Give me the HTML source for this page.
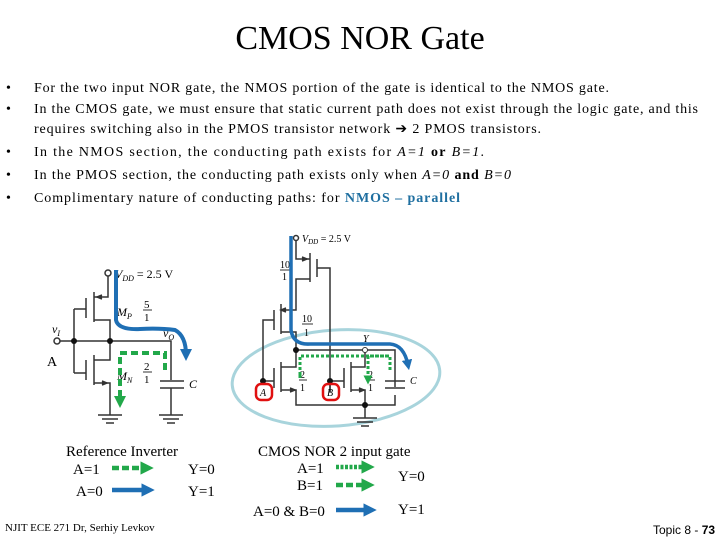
<!DOCTYPE html>
<html><head><style>
body{margin:0;width:720px;height:540px;background:#fff;overflow:hidden}
svg{display:block}
text{font-family:"Liberation Serif",serif}
</style></head><body>
<svg width="720" height="540" viewBox="0 0 720 540" xmlns="http://www.w3.org/2000/svg">
<defs>
<marker id="bh" viewBox="0 0 10 10" refX="5" refY="5" markerWidth="3" markerHeight="3" orient="auto"><path d="M0,0L10,5L0,10z" fill="#1f6fb4"/></marker>
<marker id="gh" viewBox="0 0 10 10" refX="5" refY="5" markerWidth="3" markerHeight="3" orient="auto"><path d="M0,0L10,5L0,10z" fill="#22a84a"/></marker>
</defs>
<text x="360" y="49" font-size="34" text-anchor="middle">CMOS NOR Gate</text>
<g font-size="14">
<text x="6" y="92">•</text><text x="34" y="92" textLength="575" lengthAdjust="spacing">For the two input NOR gate, the NMOS portion of the gate is identical to the NMOS gate.</text>
<text x="6" y="113">•</text><text x="34" y="113" textLength="664" lengthAdjust="spacing">In the CMOS gate, we must ensure that static current path does not exist through the logic gate, and this</text>
<text x="34" y="133" textLength="507" lengthAdjust="spacing">requires switching also in the PMOS transistor network ➔ 2 PMOS transistors.</text>
<text x="6" y="156">•</text><text x="34" y="156" textLength="450" lengthAdjust="spacing">In the NMOS section, the conducting path exists for <tspan font-style="italic">A=1</tspan> <tspan font-weight="bold">or</tspan> <tspan font-style="italic">B=1</tspan>.</text>
<text x="6" y="179">•</text><text x="34" y="179" textLength="477" lengthAdjust="spacing">In the PMOS section, the conducting path exists only when <tspan font-style="italic">A=0</tspan> <tspan font-weight="bold">and</tspan> <tspan font-style="italic">B=0</tspan></text>
<text x="6" y="202">•</text><text x="34" y="202" textLength="426" lengthAdjust="spacing">Complimentary nature of conducting paths:  for <tspan font-weight="bold" fill="#1f6fa0">NMOS – parallel</tspan></text>
</g>
<!-- inverter -->
<g stroke="#333" stroke-width="1.5" fill="none">
<circle cx="108" cy="273" r="3"/>
<path d="M108,276V297H94M94,292V322M86,298V318M94,320H110V341"/>
<path d="M102,295l-5,2l5,2" fill="#333"/>
<path d="M74,309V373M74,309H86M74,373H86M60,341H110H171V380"/>
<path d="M110,341V360H94M94,355V385M86,360V380M94,383H110V415"/>
<path d="M102,381l5,2l-5,2" fill="#333"/>
<circle cx="57" cy="341" r="3"/>
<path d="M160,381H184M160,388H184M171,388V415M98,415H122M102,419H118M106,423H114M159,415H183M163,419H179M167,423H175"/>
</g>
<circle cx="74" cy="341" r="3" fill="#111"/><circle cx="110" cy="341" r="3" fill="#111"/>
<g font-size="12" font-style="italic"><text x="115" y="278">V<tspan font-size="8" dy="3">DD</tspan><tspan dy="-3" font-style="normal"> = 2.5 V</tspan></text>
<text x="117" y="316">M<tspan font-size="8" dy="3">P</tspan></text><text x="117" y="380">M<tspan font-size="8" dy="3">N</tspan></text>
<text x="163" y="337">v<tspan font-size="8" dy="3">O</tspan></text><text x="52" y="333">v<tspan font-size="8" dy="3">I</tspan></text>
<text x="189" y="388">C</text></g>
<g font-size="11"><text x="144" y="308">5</text><line x1="143" y1="310" x2="152" y2="310" stroke="#333"/><text x="144" y="321">1</text>
<text x="144" y="370">2</text><line x1="143" y1="372" x2="152" y2="372" stroke="#333"/><text x="144" y="383">1</text></g>
<text x="47" y="366" font-size="14">A</text>
<path d="M116,270V320Q118,330 140,329Q160,328 175,330Q186,336 186,355" stroke="#1f6fb4" stroke-width="4" fill="none" marker-end="url(#bh)"/>
<path d="M165,370V353H120V402" stroke="#22a84a" stroke-width="4" stroke-dasharray="7,4" fill="none" marker-end="url(#gh)"/>
<!-- NOR -->
<ellipse cx="336" cy="378" rx="104" ry="48" stroke="#a8d4dc" stroke-width="3" fill="none" transform="rotate(-4 336 378)"/>
<g stroke="#333" stroke-width="1.5" fill="none">
<circle cx="296" cy="238" r="2.5"/>
<path d="M296,240V259H310M310,253V282M317,259V277M310,279H296V310H281M281,304V334M274,310V330M281,332H296V350M317,268H330V392M274,320H263V381"/>
<path d="M302,257l5,2l-5,2M286,308l-5,2l5,2" fill="#333"/>
<path d="M296,350H395V387M296,350V367H281M281,362V392M274,368V388M281,390H296V405H395V395"/>
<path d="M365,350V367H351M351,362V392M344,368V388M351,390H365V405M330,392V381H344M263,381H274"/>
<path d="M290,388l5,2l-5,2M359,388l5,2l-5,2" fill="#333"/>
<path d="M385,381H405M385,388H405M365,405V418M353,418H377M357,422H373M361,426H369"/>
</g>
<circle cx="296" cy="350" r="3" fill="#111"/><circle cx="365" cy="350" r="2.5" fill="#fff" stroke="#333"/>
<circle cx="263" cy="381" r="3" fill="#111"/><circle cx="330" cy="381" r="3" fill="#111"/><circle cx="365" cy="405" r="3" fill="#111"/>
<g font-size="10"><text x="280" y="268">10</text><line x1="280" y1="270" x2="291" y2="270" stroke="#333"/><text x="282" y="280">1</text>
<text x="302" y="322">10</text><line x1="302" y1="324" x2="313" y2="324" stroke="#333"/><text x="304" y="336">1</text>
<text x="300" y="378">2</text><line x1="299" y1="380" x2="307" y2="380" stroke="#333"/><text x="300" y="391">1</text>
<text x="368" y="378">2</text><line x1="367" y1="380" x2="375" y2="380" stroke="#333"/><text x="368" y="391">1</text></g>
<g font-size="10" font-style="italic"><text x="302" y="242">V<tspan font-size="7" dy="2">DD</tspan><tspan dy="-2" font-style="normal"> = 2.5 V</tspan></text>
<text x="363" y="342">Y</text><text x="410" y="384">C</text><text x="260" y="396">A</text><text x="327" y="396">B</text></g>
<rect x="256" y="384" width="16" height="16" rx="5" stroke="#e01010" stroke-width="2.5" fill="none"/>
<rect x="323" y="384" width="16" height="16" rx="5" stroke="#e01010" stroke-width="2.5" fill="none"/>
<path d="M291,236V330Q293,345 310,344H390Q404,345 408,365" stroke="#1f6fb4" stroke-width="3.5" fill="none" marker-end="url(#bh)"/>
<path d="M390,370V356H300V375M388,356H368V380" stroke="#22a84a" stroke-width="3" stroke-dasharray="3,2" fill="none"/>
<path d="M300,372V378M368,377V380" stroke="#22a84a" stroke-width="3" marker-end="url(#gh)"/>
<!-- legend -->
<g font-size="15"><text x="66" y="456">Reference Inverter</text><text x="73" y="474">A=1</text><text x="188" y="474">Y=0</text>
<text x="76" y="496">A=0</text><text x="188" y="496">Y=1</text>
<text x="258" y="456">CMOS  NOR   2 input gate</text><text x="297" y="473">A=1</text><text x="297" y="490">B=1</text>
<text x="398" y="481">Y=0</text><text x="253" y="516">A=0 &amp; B=0</text><text x="398" y="514">Y=1</text></g>
<path d="M112,468H147" stroke="#22a84a" stroke-width="4.5" stroke-dasharray="7,3" marker-end="url(#gh)"/>
<path d="M112,490H148" stroke="#1f6fb4" stroke-width="4.5" marker-end="url(#bh)"/>
<path d="M336,467H368" stroke="#22a84a" stroke-width="4.5" stroke-dasharray="3,1.5" marker-end="url(#gh)"/>
<path d="M336,485H368" stroke="#22a84a" stroke-width="4.5" stroke-dasharray="7,3" marker-end="url(#gh)"/>
<path d="M336,510H370" stroke="#1f6fb4" stroke-width="4.5" marker-end="url(#bh)"/>
<text x="5" y="531" font-size="11">NJIT ECE 271  Dr, Serhiy Levkov</text>
<text x="653" y="534" font-size="12" style="font-family:'Liberation Sans',sans-serif">Topic 8 - <tspan font-weight="bold">73</tspan></text>
</svg>
</body></html>
